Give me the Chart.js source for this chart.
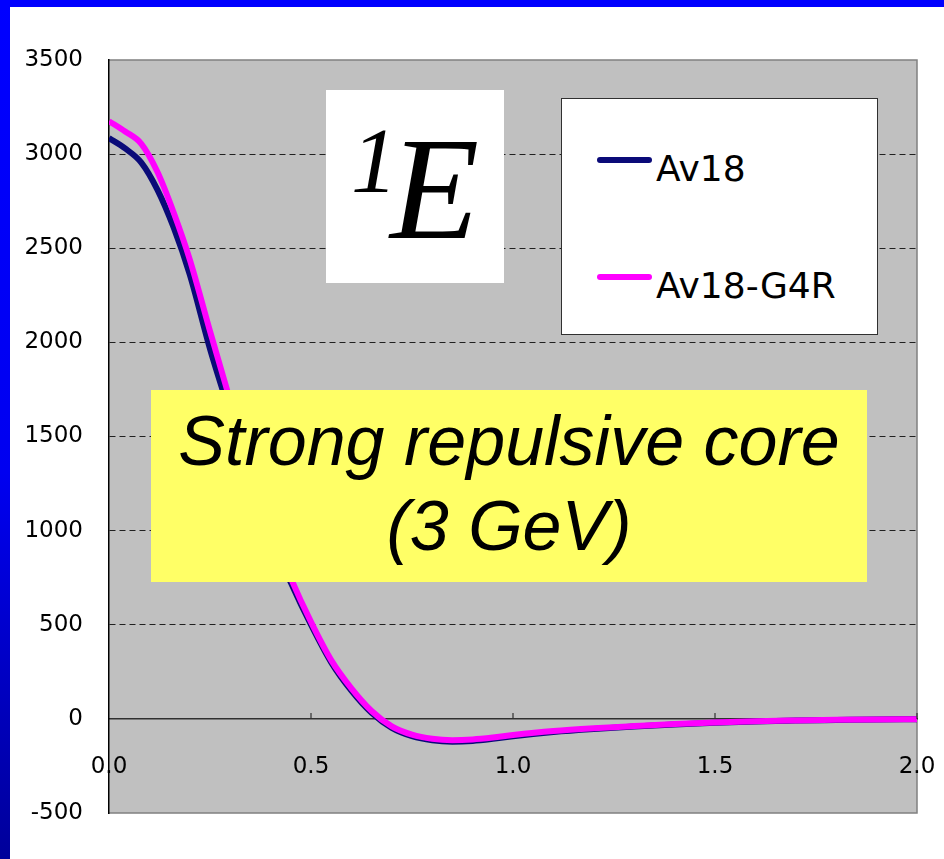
<!DOCTYPE html>
<html>
<head>
<meta charset="utf-8">
<script src="https://cdn.jsdelivr.net/npm/chart.js@4"></script>
<style>
  html, body { margin: 0; padding: 0; background: #ffffff; }
  body { width: 944px; height: 859px; position: relative; overflow: hidden; }
  #wrap { position: absolute; left: 0; top: 0; width: 944px; height: 859px; }
  #leftbar { position: absolute; left: 0; top: 0; width: 10px; height: 859px;
    background: linear-gradient(#0000ff, #0000f0 55%, #00009a); }
  #topbar { position: absolute; left: 0; top: 0; width: 944px; height: 7px; background: #0000ff; }
  #ebox { position: absolute; left: 326px; top: 90px; width: 178px; height: 193px; background: #ffffff; }
  #ebox span { position: absolute; font-family: "Liberation Serif", "Times New Roman", serif; font-style: italic; line-height: 1; color: #000; white-space: nowrap; }
  #note { position: absolute; left: 151px; top: 390px; width: 716px; height: 192px; background: #ffff66;
    font-family: "Liberation Sans", Arial, sans-serif; font-style: italic; font-size: 70px; line-height: 85px;
    text-align: center; color: #000; box-sizing: border-box; padding-top: 9px; }
  #legend { position: absolute; left: 561px; top: 98px; width: 317px; height: 237px; background: #ffffff;
    border: 1.5px solid #303030; box-sizing: border-box; }
  .litem { position: absolute; left: 0; height: 40px; width: 317px; }
  .lline { position: absolute; left: 35px; width: 55px; height: 6px; border-radius: 3px; }
  .ltext { position: absolute; left: 94px; font-family: "DejaVu Sans", sans-serif; font-size: 36px; line-height: 1; color: #000; white-space: nowrap; }
</style>
</head>
<body>
<div id="wrap"><canvas id="c" width="944" height="859"></canvas></div>
<div id="leftbar"></div>
<div id="topbar"></div>
<div id="ebox"><span style="left:25px; top:24px; font-size:93px;">1</span><span style="left:64px; top:26px; font-size:146px;">E</span></div>
<div id="note">Strong repulsive core<br>(3 GeV)</div>
<div id="legend"></div>
<script>
// ---- data ----
const distance = [0, 0.04, 0.08, 0.12, 0.16, 0.2, 0.25, 0.3, 0.35, 0.4, 0.45, 0.5, 0.55, 0.6, 0.65, 0.7, 0.75, 0.8, 0.85, 0.9, 0.95, 1.0, 1.1, 1.2, 1.3, 1.4, 1.5, 1.6, 1.7, 1.8, 1.9, 2.0];
const av18 = [3085, 3030, 2955, 2810, 2610, 2360, 1965, 1620, 1280, 975, 725, 500, 300, 150, 32, -48, -92, -114, -121, -117, -106, -92, -70, -54, -41, -30, -21, -14, -9, -6, -3, -2];
const av18g4r = [3175, 3120, 3055, 2905, 2690, 2440, 2060, 1690, 1335, 1015, 748, 515, 312, 162, 42, -40, -84, -106, -113, -109, -99, -86, -65, -50, -38, -27, -19, -12, -8, -5, -3, -2];
const seriesNames = ["Av18", "Av18-G4R"];
const yTicks = [-500, 0, 500, 1000, 1500, 2000, 2500, 3000, 3500];
const xTicks = [0.0, 0.5, 1.0, 1.5, 2.0];

const toPoints = (xs, ys) => xs.map((x, i) => ({ x: x, y: ys[i] }));

const plotBg = {
  id: 'plotBg',
  beforeDraw(chart) {
    const { ctx, chartArea: a } = chart;
    ctx.save();
    ctx.fillStyle = '#c0c0c0';
    ctx.fillRect(a.left, a.top, a.right - a.left, a.bottom - a.top);
    ctx.strokeStyle = '#808080';
    ctx.lineWidth = 1.5;
    ctx.beginPath();
    ctx.moveTo(a.left, a.top); ctx.lineTo(a.right, a.top); ctx.lineTo(a.right, a.bottom); ctx.lineTo(a.left, a.bottom);
    ctx.stroke();
    ctx.restore();
  },
  afterDatasetsDraw(chart) {
    const { ctx, scales: { x, y } } = chart;
    const y0 = y.getPixelForValue(0);
    ctx.save();
    ctx.strokeStyle = '#303030';
    ctx.lineWidth = 1.2;
    ctx.beginPath();
    x.ticks.forEach(t => {
      if (t.value === 0) return;
      const px = x.getPixelForValue(t.value);
      ctx.moveTo(px, y0); ctx.lineTo(px, y0 - 6);
    });
    ctx.stroke();
    ctx.restore();
  }
};

Chart.defaults.font.family = '"DejaVu Sans", sans-serif';
Chart.defaults.color = '#000000';

const chart = new Chart(document.getElementById('c'), {
  type: 'line',
  data: {
    datasets: [
      { label: seriesNames[0], data: toPoints(distance, av18), borderColor: '#0a0a78', backgroundColor: '#0a0a78', borderWidth: 6, pointRadius: 0, cubicInterpolationMode: 'monotone', order: 2, fill: false },
      { label: seriesNames[1], data: toPoints(distance, av18g4r), borderColor: '#ff00ff', backgroundColor: '#ff00ff', borderWidth: 6, pointRadius: 0, cubicInterpolationMode: 'monotone', order: 1, fill: false }
    ]
  },
  options: {
    responsive: false,
    animation: false,
    events: [],
    layout: { padding: { left: 0, top: 60, right: 27, bottom: 46 } },
    plugins: { legend: { display: false }, tooltip: { enabled: false } },
    scales: {
      x: {
        type: 'linear',
        min: 0, max: 2,
        position: { y: 0 },
        afterBuildTicks: s => { s.ticks = xTicks.map(v => ({ value: v })); },
        afterFit: s => { s.paddingLeft = 0; s.paddingRight = 0; },
        ticks: { padding: 34, font: { size: 23 }, callback: v => Number(v).toFixed(1), maxRotation: 0, autoSkip: false },
        grid: { display: false, drawTicks: false },
        border: { display: true, color: '#303030', width: 1.5 }
      },
      y: {
        type: 'linear',
        min: -500, max: 3500,
        position: 'left',
        afterBuildTicks: s => { s.ticks = yTicks.map(v => ({ value: v })); },
        afterFit: s => { s.width = 109; },
        ticks: { padding: 26, font: { size: 23 }, callback: v => String(v) },
        grid: {
          drawTicks: false,
          color: c => (c.tick && (c.tick.value === 3500 || c.tick.value === -500 || c.tick.value === 0)) ? 'rgba(0,0,0,0)' : '#202020',
          lineWidth: 1
        },
        border: { display: true, color: '#000000', width: 1.5, dash: [6, 4] }
      }
    }
  },
  plugins: [plotBg]
});

// legend built from the chart's datasets
const legend = document.getElementById('legend');
const itemTops = [40, 157];
chart.data.datasets.forEach((ds, i) => {
  const item = document.createElement('div');
  item.className = 'litem';
  item.style.top = itemTops[i] + 'px';
  const ln = document.createElement('div');
  ln.className = 'lline';
  ln.style.background = ds.borderColor;
  ln.style.top = '18px';
  const tx = document.createElement('div');
  tx.className = 'ltext';
  tx.style.top = '12px';
  tx.textContent = ds.label;
  item.appendChild(ln); item.appendChild(tx);
  legend.appendChild(item);
});
</script>
</body>
</html>
